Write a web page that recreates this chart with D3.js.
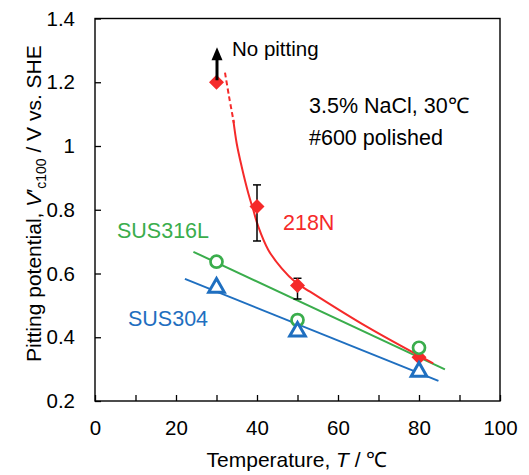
<!DOCTYPE html>
<html>
<head>
<meta charset="utf-8">
<script src="https://cdn.jsdelivr.net/npm/d3@7"></script>
<style>
  body { margin: 0; background: #fff; }
  text { font-family: "Liberation Sans", Arial, sans-serif; }
</style>
</head>
<body>
<script>
// Pitting potential vs temperature, 218N / SUS316L / SUS304

const w = 529;
const h = 475;

const xTicks = [0, 20, 40, 60, 80, 100];
const xMinor = [10, 30, 50, 70, 90];
const yTicks = [0.2, 0.4, 0.6, 0.8, 1, 1.2, 1.4];

// 218N (diamonds)
const temps218N = [30, 40, 50, 80];
const v218N = [1.2, 0.81, 0.562, 0.337];
const err218N = [null, [0.702, 0.878], [0.52, 0.585], null];
// fitted curve
const curve218Ndash = [[32.1, 1.23], [33.1, 1.155], [34.3, 1.072]];
const curve218N = [[34.15, 1.082], [34.99, 1.008], [36.22, 0.935], [37.85, 0.852],
  [39.09, 0.799], [40.32, 0.747], [42.79, 0.674], [46.1, 0.616], [49.38, 0.574],
  [53.1, 0.543], [67.1, 0.433], [83.5, 0.318]];

// SUS316L (circles) and SUS304 (triangles)
const tempsSUS = [30, 50, 80];
const v316L = [0.637, 0.454, 0.367];
const v304 = [0.561, 0.423, 0.297];
const fit316L = [[24.3, 0.668], [86.4, 0.299]];
const fit304 = [[22.2, 0.583], [84.8, 0.263]];

const red = "#f52a2a";
const green = "#3aad4c";
const blue = "#1f6fc0";

const svg = d3.select("body")
  .append("svg")
  .attr("width", w)
  .attr("height", h);

const x = d3.scaleLinear().domain([0, 100]).range([95, 500]);
const y = d3.scaleLinear().domain([0.2, 1.4]).range([401, 18.5]);

// frame
svg.append("rect")
  .attr("x", x(0)).attr("y", y(1.4))
  .attr("width", x(100) - x(0)).attr("height", y(0.2) - y(1.4))
  .attr("fill", "none").attr("stroke", "#000").attr("stroke-width", 1.4);

// axes with inward ticks
const xAxis = d3.axisBottom(x).tickValues(xTicks.concat(xMinor))
  .tickSize(-6).tickPadding(19)
  .tickFormat(d => xTicks.includes(d) ? d : "");
svg.append("g")
  .attr("transform", `translate(0,${y(0.2)})`)
  .call(xAxis)
  .call(g => g.select(".domain").remove())
  .call(g => g.selectAll("line").attr("stroke-width", 1.3))
  .call(g => g.selectAll("text").attr("font-size", 20.5).attr("fill", "#000")
    .attr("font-family", "Liberation Sans, Arial, sans-serif"));

const yAxis = d3.axisLeft(y).tickValues(yTicks)
  .tickSize(-6).tickPadding(20)
  .tickFormat(d => d);
svg.append("g")
  .attr("transform", `translate(${x(0)},0)`)
  .call(yAxis)
  .call(g => g.select(".domain").remove())
  .call(g => g.selectAll("line").attr("stroke-width", 1.3))
  .call(g => g.selectAll("text").attr("font-size", 20.5).attr("fill", "#000")
    .attr("font-family", "Liberation Sans, Arial, sans-serif"));

// axis titles
const xt = svg.append("text")
  .attr("x", 297).attr("y", 467)
  .attr("text-anchor", "middle").attr("font-size", 21);
xt.append("tspan").text("Temperature, ");
xt.append("tspan").attr("font-style", "italic").text("T");
xt.append("tspan").text(" / ℃");

const yt = svg.append("text")
  .attr("transform", "translate(41,362) rotate(-90)")
  .attr("font-size", 21);
yt.append("tspan").text("Pitting potential, ");
yt.append("tspan").attr("font-style", "italic").text("V");
yt.append("tspan").text("′");
yt.append("tspan").attr("font-size", 14).attr("dy", 5).text("c100");
yt.append("tspan").attr("dy", -5).text(" / V vs. SHE");

// lines
const line = d3.line().x(d => x(d[0])).y(d => y(d[1]));
const curve = d3.line().x(d => x(d[0])).y(d => y(d[1])).curve(d3.curveCatmullRom);

svg.append("path").attr("d", line(fit316L))
  .attr("fill", "none").attr("stroke", green).attr("stroke-width", 2);
svg.append("path").attr("d", line(fit304))
  .attr("fill", "none").attr("stroke", blue).attr("stroke-width", 2);
svg.append("path").attr("d", curve(curve218N))
  .attr("fill", "none").attr("stroke", red).attr("stroke-width", 2);
svg.append("path").attr("d", curve(curve218Ndash))
  .attr("fill", "none").attr("stroke", red).attr("stroke-width", 2)
  .attr("stroke-dasharray", "5,3");

// error bars
const errs = temps218N.map((t, i) => ({ t, e: err218N[i] })).filter(d => d.e);
const eb = svg.selectAll(".err").data(errs).enter().append("g")
  .attr("stroke", "#000").attr("stroke-width", 1.5);
eb.append("line")
  .attr("x1", d => x(d.t)).attr("x2", d => x(d.t))
  .attr("y1", d => y(d.e[0])).attr("y2", d => y(d.e[1]));
eb.append("line")
  .attr("x1", d => x(d.t) - 4).attr("x2", d => x(d.t) + 4)
  .attr("y1", d => y(d.e[0])).attr("y2", d => y(d.e[0]));
eb.append("line")
  .attr("x1", d => x(d.t) - 4).attr("x2", d => x(d.t) + 4)
  .attr("y1", d => y(d.e[1])).attr("y2", d => y(d.e[1]));

// markers
svg.selectAll(".dia").data(temps218N).enter().append("path")
  .attr("d", "M0,-7.5L7.5,0L0,7.5L-7.5,0Z")
  .attr("transform", (d, i) => `translate(${x(d)},${y(v218N[i])})`)
  .attr("fill", red);

svg.selectAll(".circ").data(tempsSUS).enter().append("circle")
  .attr("cx", d => x(d)).attr("cy", (d, i) => y(v316L[i]))
  .attr("r", 6)
  .attr("fill", "#fff").attr("stroke", green).attr("stroke-width", 2.7);

svg.selectAll(".tri").data(tempsSUS).enter().append("path")
  .attr("d", "M0,-7.5L7.8,6.2L-7.8,6.2Z")
  .attr("transform", (d, i) => `translate(${x(d)},${y(v304[i])})`)
  .attr("fill", "#fff").attr("stroke", blue).attr("stroke-width", 3)
  .attr("stroke-linejoin", "miter");

// "No pitting" arrow
const ax = x(temps218N[0]) + 0.5;
svg.append("line")
  .attr("x1", ax).attr("x2", ax)
  .attr("y1", y(v218N[0]) - 2).attr("y2", y(1.28))
  .attr("stroke", "#000").attr("stroke-width", 3);
svg.append("path")
  .attr("d", `M${ax},${y(1.31)}L${ax + 5.5},${y(1.31) + 13}L${ax - 5.5},${y(1.31) + 13}Z`)
  .attr("fill", "#000");

// annotations
svg.append("text").attr("x", 232).attr("y", 56).attr("font-size", 20.5).text("No pitting");
svg.append("text").attr("x", 309).attr("y", 113).attr("font-size", 21.5).text("3.5% NaCl, 30℃");
svg.append("text").attr("x", 309).attr("y", 145).attr("font-size", 21.5).text("#600 polished");
svg.append("text").attr("x", 283).attr("y", 230).attr("font-size", 21.5).attr("fill", red).text("218N");
svg.append("text").attr("x", 117).attr("y", 238).attr("font-size", 21.5).attr("fill", green).text("SUS316L");
svg.append("text").attr("x", 128).attr("y", 326).attr("font-size", 21.5).attr("fill", blue).text("SUS304");
</script>
</body>
</html>
